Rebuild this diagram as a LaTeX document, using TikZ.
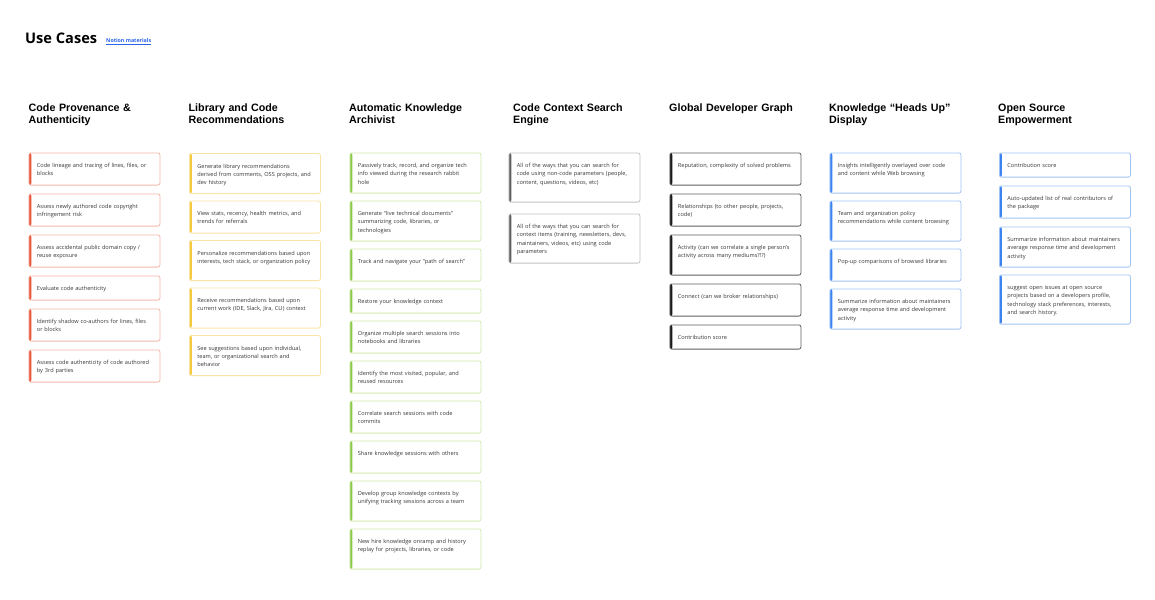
\documentclass[tikz,border=0pt]{standalone}
\usepackage{fontspec}
\setmainfont{Open Sans}
\newfontfamily\headfont{Liberation Sans}
\usetikzlibrary{positioning}
\definecolor{TextColor}{RGB}{55,55,55}
\definecolor{LinkColor}{RGB}{40,100,235}
\definecolor{RedBar}{RGB}{232,84,56}
\definecolor{RedLine}{RGB}{244,184,170}
\definecolor{YellowBar}{RGB}{245,200,62}
\definecolor{YellowLine}{RGB}{250,228,165}
\definecolor{GreenBar}{RGB}{140,200,72}
\definecolor{GreenLine}{RGB}{210,234,178}
\definecolor{GrayBar}{RGB}{95,95,95}
\definecolor{GrayLine}{RGB}{195,195,195}
\definecolor{BlackBar}{RGB}{25,25,25}
\definecolor{BlackLine}{RGB}{95,95,95}
\definecolor{BlueBar}{RGB}{60,130,240}
\definecolor{BlueLine}{RGB}{160,196,245}

\begin{document}
\begin{tikzpicture}[
    x=1pt, y=-1pt,
    font=\fontsize{5.6}{8.3}\selectfont,
    title/.style={font=\bfseries\fontsize{14.6}{18}\selectfont, inner sep=0pt, anchor=base west},
    link/.style={font=\bfseries\fontsize{5.3}{6}\selectfont, text=LinkColor, inner sep=0pt, anchor=base west},
    head/.style={font=\headfont\bfseries\fontsize{10.7}{12}\selectfont, text width=160pt, align=left, inner sep=0pt, anchor=base west},
    card/.style={draw=#1Line, line width=0.8pt, rounded corners=2pt, fill=white, text=TextColor,
        text width=115pt, inner xsep=8pt, inner ysep=9.6pt, text height=5pt, text depth=8pt, align=left, anchor=north west,
        path picture={\fill[#1Bar] (path picture bounding box.north west) rectangle ([xshift=2.4pt]path picture bounding box.south west);}},
    r1/.style={text depth=0pt},
    r2/.style={text depth=8pt},
    r3/.style={text depth=16pt},
    r4/.style={text depth=25pt}
]
    \fill[white] (0,0) rectangle (1155,599);
    \useasboundingbox (0,0) rectangle (1155,599);

    \node[title] (usecases) at (25,43.3) {Use Cases};
    \node[link] (notion) at (106,43) {\underline{Notion materials}};

    % column headings
    \node[head] (provhead) at (28.5,111) {Code Provenance \&\\Authenticity};
    \node[head] (libhead) at (188.5,111) {Library and Code\\Recommendations};
    \node[head] (archhead) at (349,111) {Automatic Knowledge\\Archivist};
    \node[head] (ctxhead) at (513,111) {Code Context Search\\Engine};
    \node[head] (graphhead) at (669,111) {Global Developer Graph};
    \node[head] (hinthead) at (829,111) {Knowledge “Heads Up”\\Display};
    \node[head] (osshead) at (998,111) {Open Source\\Empowerment};

    % code provenance
    \node[card=Red, r2] (prov1) at (28.5,152.5) {Code lineage and tracing of lines, files, or\\blocks};
    \node[card=Red, r2, below=8pt of prov1] (prov2) {Assess newly authored code copyright\\infringement risk};
    \node[card=Red, r2, below=8pt of prov2] (prov3) {Assess accidental public domain copy /\\reuse exposure};
    \node[card=Red, r1, below=8pt of prov3] (prov4) {Evaluate code authenticity};
    \node[card=Red, r2, below=8pt of prov4] (prov5) {Identify shadow co-authors for lines, files\\or blocks};
    \node[card=Red, r2, below=8pt of prov5] (prov6) {Assess code authenticity of code authored\\by 3rd parties};

    % library recommendations
    \node[card=Yellow, r3] (lib1) at (189,153) {Generate library recommendations\\derived from comments, OSS projects, and\\dev history};
    \node[card=Yellow, r2, below=6.5pt of lib1] (lib2) {View stats, recency, health metrics, and\\trends for referrals};
    \node[card=Yellow, r3, below=6.5pt of lib2] (lib3) {Personalize recommendations based upon\\interests, tech stack, or organization policy};
    \node[card=Yellow, r3, below=6.5pt of lib3] (lib4) {Receive recommendations based upon\\current work (IDE, Slack, Jira, CLI) context};
    \node[card=Yellow, r3, below=6.5pt of lib4] (lib5) {See suggestions based upon individual,\\team, or organizational search and\\behavior};

    % knowledge archivist
    \node[card=Green, r3] (arch1) at (349.5,152.5) {Passively track, record, and organize tech\\info viewed during the research rabbit\\hole};
    \node[card=Green, r3, below=7pt of arch1] (arch2) {Generate “live technical documents”\\summarizing code, libraries, or\\technologies};
    \node[card=Green, r2, below=7pt of arch2] (arch3) {Track and navigate your “path of search”};
    \node[card=Green, r1, below=7pt of arch3] (arch4) {Restore your knowledge context};
    \node[card=Green, r2, below=7pt of arch4] (arch5) {Organize multiple search sessions into\\notebooks and libraries};
    \node[card=Green, r2, below=7pt of arch5] (arch6) {Identify the most visited, popular, and\\reused resources};
    \node[card=Green, r2, below=7pt of arch6] (arch7) {Correlate search sessions with code\\commits};
    \node[card=Green, r2, below=7pt of arch7] (arch8) {Share knowledge sessions with others};
    \node[card=Green, r3, below=7pt of arch8] (arch9) {Develop group knowledge contexts by\\unifying tracking sessions across a team};
    \node[card=Green, r3, below=7pt of arch9] (arch10) {New hire knowledge onramp and history\\replay for projects, libraries, or code};

    % context search
    \node[card=Gray, r4] (ctx1) at (508.5,152.5) {All of the ways that you can search for\\code using non-code parameters (people,\\content, questions, videos, etc)};
    \node[card=Gray, r4, below=11pt of ctx1] (ctx2) {All of the ways that you can search for\\context items (training, newsletters, devs,\\maintainers, videos, etc) using code\\parameters};

    % developer graph
    \node[card=Black, r2] (graph1) at (669.5,152.5) {Reputation, complexity of solved problems};
    \node[card=Black, r2, below=8pt of graph1] (graph2) {Relationships (to other people, projects,\\code)};
    \node[card=Black, r3, below=8pt of graph2] (graph3) {Activity (can we correlate a single person’s\\activity across many mediums?!?)};
    \node[card=Black, r2, below=8pt of graph3] (graph4) {Connect (can we broker relationships)};
    \node[card=Black, r1, below=8pt of graph4] (graph5) {Contribution score};

    % heads up display
    \node[card=Blue, r3] (hint1) at (829.5,152.5) {Insights intelligently overlayed over code\\and content while Web browsing};
    \node[card=Blue, r3, below=7pt of hint1] (hint2) {Team and organization policy\\recommendations while content browsing};
    \node[card=Blue, r2, below=7pt of hint2] (hint3) {Pop-up comparisons of browsed libraries};
    \node[card=Blue, r3, below=7pt of hint3] (hint4) {Summarize information about maintainers\\average response time and development\\activity};

    % open source
    \node[card=Blue, r1] (oss1) at (999,152.5) {Contribution score};
    \node[card=Blue, r2, below=8pt of oss1] (oss2) {Auto-updated list of real contributors of\\the package};
    \node[card=Blue, r3, below=8pt of oss2] (oss3) {Summarize information about maintainers\\average response time and development\\activity};
    \node[card=Blue, r4, below=7pt of oss3] (oss4) {suggest open issues at open source\\projects based on a developers profile,\\technology stack preferences, interests,\\and search history.};
\end{tikzpicture}
\end{document}
